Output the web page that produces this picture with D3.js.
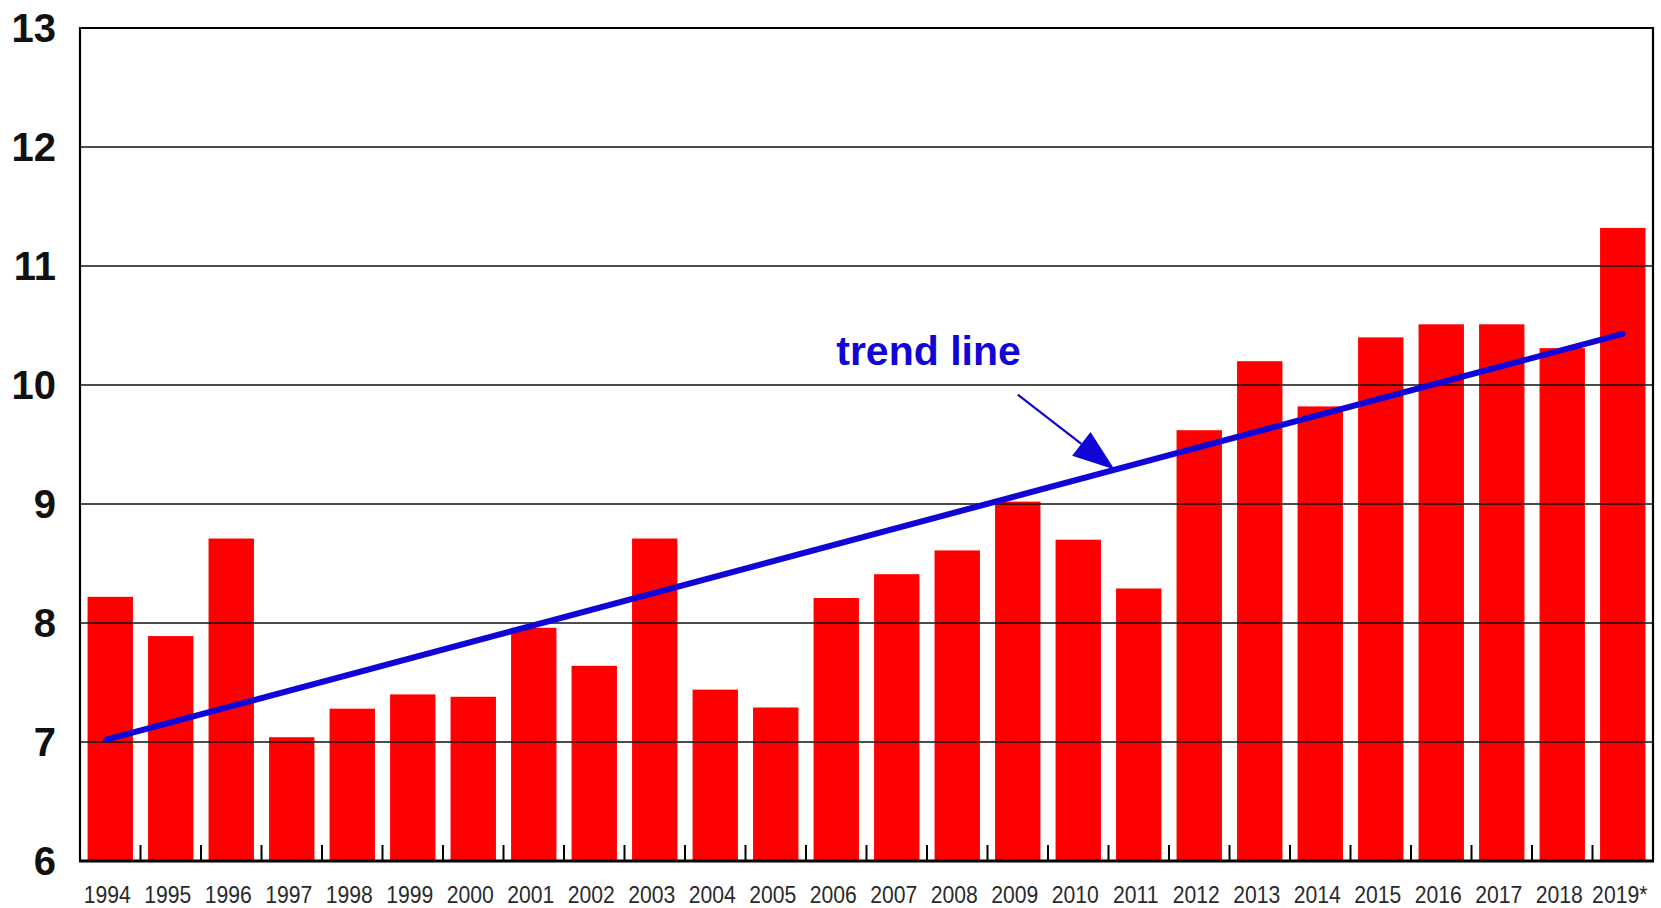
<!DOCTYPE html>
<html><head><meta charset="utf-8">
<script src="https://cdn.jsdelivr.net/npm/d3@7"></script>
<style>html,body{margin:0;padding:0;background:#fff;}svg{display:block;}</style>
</head><body>
<svg id="chart" width="1661" height="908"></svg>
<script>
const years = ["1994","1995","1996","1997","1998","1999","2000","2001","2002","2003","2004","2005","2006","2007","2008","2009","2010","2011","2012","2013","2014","2015","2016","2017","2018","2019*"];
const values = [8.22,7.89,8.71,7.04,7.28,7.40,7.38,7.96,7.64,8.71,7.44,7.29,8.21,8.41,8.61,9.02,8.70,8.29,9.62,10.20,9.82,10.40,10.51,10.51,10.31,11.32];
const yTicks = [6,7,8,9,10,11,12,13];
const trendYears = [0, 25];       // index of first and last year
const trendValues = [7.02, 10.43];
const annotationText = "trend line";
const annotationTextPos = [12, 10.17];   // [year index, value]
const arrowFrom = [15, 9.92];
const arrowTo = [16.6, 9.29];

const svg = d3.select("#chart");
const m = {left: 80, right: 8, top: 28, bottom: 47};
const W = 1661, H = 908;
const BLUE = "#1005d6";

const x = d3.scaleBand().domain(years).range([m.left, W - m.right]).paddingInner(0.25).paddingOuter(0.125);
const step = x.step();
const xi = d3.scaleLinear().domain([0, years.length - 1]).range([x(years[0]) + x.bandwidth()/2, x(years[years.length-1]) + x.bandwidth()/2]);
const y = d3.scaleLinear().domain([6, 13]).range([H - m.bottom, m.top]);

// bars
svg.append("g").selectAll("rect").data(values).join("rect")
  .attr("x", (d,i) => x(years[i]))
  .attr("y", d => y(d))
  .attr("width", x.bandwidth())
  .attr("height", d => y(6) - y(d))
  .attr("fill", "#ff0000");

// gridlines
svg.append("g").selectAll("line").data(yTicks.filter(t => t > 6 && t < 13)).join("line")
  .attr("x1", m.left).attr("x2", W - m.right)
  .attr("y1", d => y(d)).attr("y2", d => y(d))
  .attr("stroke", "#111").attr("stroke-width", 1.6);

// frame
const x0 = m.left, x1 = W - m.right;
svg.append("path")
  .attr("d", `M${x0},${y(6)}V${y(13)}H${x1}V${y(6)}`)
  .attr("fill", "none").attr("stroke", "#000").attr("stroke-width", 2.2);
svg.append("line").attr("x1", x0 - 1).attr("x2", x1 + 1).attr("y1", y(6)).attr("y2", y(6))
  .attr("stroke", "#000").attr("stroke-width", 3.2);

// category boundary ticks
svg.append("g").selectAll("line").data(years.slice(1)).join("line")
  .attr("x1", d => x(d) - step * 0.125).attr("x2", d => x(d) - step * 0.125)
  .attr("y1", y(6)).attr("y2", y(6) - 16)
  .attr("stroke", "#000").attr("stroke-width", 2);

// y labels
svg.append("g").selectAll("text").data(yTicks).join("text")
  .attr("x", 56).attr("y", d => y(d)).attr("dy", "0.36em")
  .attr("text-anchor", "end")
  .attr("font-family", "Liberation Sans, Arial, sans-serif")
  .attr("font-weight", "bold").attr("font-size", 40).attr("fill", "#111")
  .text(d => d);

// x labels
svg.append("g").selectAll("text").data(years).join("text")
  .attr("transform", d => `translate(${x(d) + x.bandwidth()/2 - 3},903) scale(0.9,1)`)
  .attr("text-anchor", "middle")
  .attr("font-family", "Liberation Sans, Arial, sans-serif")
  .attr("font-size", 23.5).attr("fill", "#2a2a2a")
  .text(d => d);

// trend line
svg.append("line")
  .attr("x1", xi(trendYears[0]) - 4).attr("y1", y(trendValues[0]))
  .attr("x2", xi(trendYears[1])).attr("y2", y(trendValues[1]))
  .attr("stroke", BLUE).attr("stroke-width", 6).attr("stroke-linecap", "round");

// annotation
svg.append("text")
  .attr("x", xi(annotationTextPos[0])).attr("y", y(annotationTextPos[1]))
  .attr("font-family", "Liberation Sans, Arial, sans-serif")
  .attr("font-weight", "bold").attr("font-size", 41).attr("fill", BLUE)
  .text(annotationText);

const ax1 = xi(arrowFrom[0]), ay1 = y(arrowFrom[1]);
const ax2 = xi(arrowTo[0]), ay2 = y(arrowTo[1]);
const ang = Math.atan2(ay2 - ay1, ax2 - ax1);
const headLen = 42, headHalf = 15;
const bx = ax2 - headLen * Math.cos(ang), by = ay2 - headLen * Math.sin(ang);
svg.append("line")
  .attr("x1", ax1).attr("y1", ay1).attr("x2", bx).attr("y2", by)
  .attr("stroke", BLUE).attr("stroke-width", 2.2);
svg.append("path")
  .attr("d", `M${ax2},${ay2}L${bx - headHalf*Math.sin(ang)},${by + headHalf*Math.cos(ang)}L${bx + headHalf*Math.sin(ang)},${by - headHalf*Math.cos(ang)}Z`)
  .attr("fill", BLUE);
</script>
</body></html>
